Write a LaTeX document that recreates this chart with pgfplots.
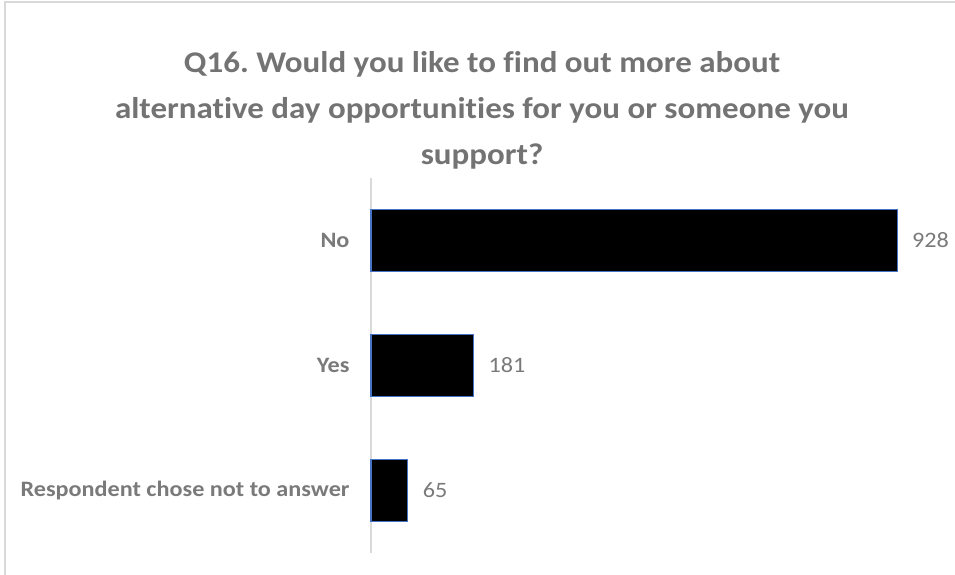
\documentclass[border=0pt]{standalone}
\usepackage{pgfplots}
\pgfplotsset{compat=1.18}
\usepackage{fontspec}
\setmainfont{Carlito}[FakeStretch=1.1, Ligatures=NoCommon]
\frenchspacing
\definecolor{titlegray}{HTML}{737373}
\definecolor{labgray}{HTML}{7A7A7A}
\definecolor{edgeblue}{HTML}{4472C4}
\definecolor{axgray}{HTML}{D9D9D9}
\begin{document}
\begin{tikzpicture}
\clip (0,0) rectangle (955pt,575pt);
\fill[white] (0,0) rectangle (955pt,575pt);
\draw[axgray, line width=1.5pt] (5pt,-20pt) rectangle (980pt,573pt);
\node[align=center, text=titlegray, font=\bfseries\fontsize{30}{46}\selectfont] at (482pt,465pt)
 {Q16. Would you like to find out more about\\alternative day opportunities for you or someone you\\support?};
\begin{axis}[
  at={(371pt,22pt)}, anchor=south west,
  width=567pt, height=375pt, scale only axis,
  xbar, bar width=62pt,
  xmin=0, xmax=1000,
  ymin=-0.5, ymax=2.5, y dir=reverse,
  ytick={0,1,2},
  yticklabels={No,Yes,Respondent chose not to answer},
  hide x axis,
  axis y line*=left,
  y axis line style={draw=axgray, line width=1.5pt, -},
  major tick length=0pt,
  yticklabel style={font=\bfseries\fontsize{22}{26}\selectfont, text=labgray, xshift=-18pt},
  nodes near coords,
  /pgf/number format/assume math mode=true,
  every node near coord/.append style={font=\fontsize{22}{26}\selectfont, text=labgray, anchor=west, xshift=11pt},
  clip=false,
]
\addplot[fill=black, draw=edgeblue, line width=1.2pt] coordinates {(928,0) (181,1) (65,2)};
\end{axis}
\end{tikzpicture}
\end{document}
